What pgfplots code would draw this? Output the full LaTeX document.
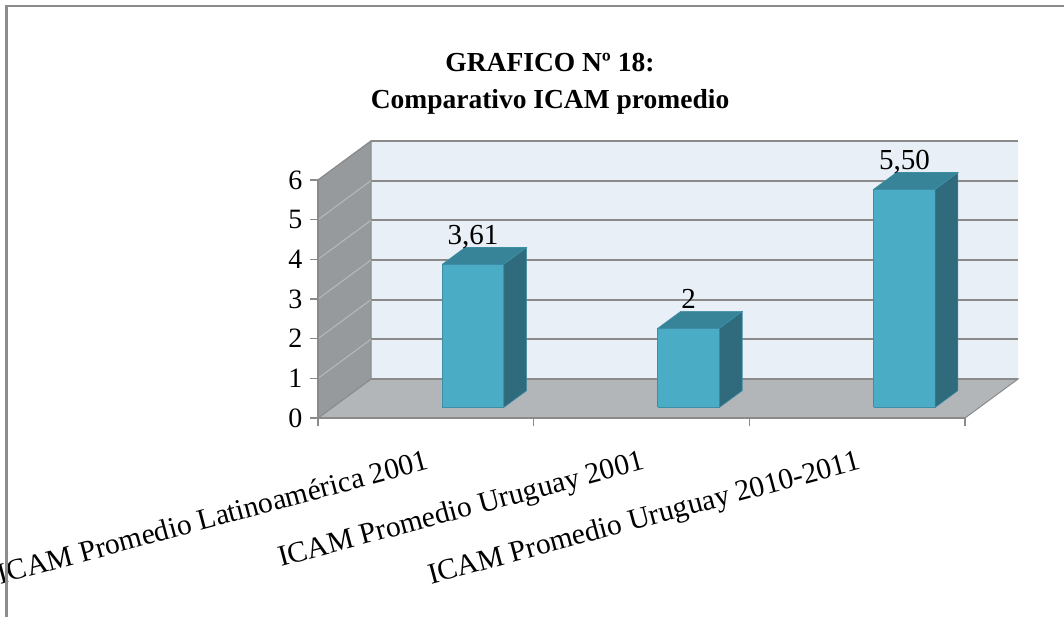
\documentclass[border=0pt]{standalone}
\usepackage{fontspec}
\setmainfont{Liberation Serif}
\usepackage{pgfplots}
\pgfplotsset{compat=1.18}
\definecolor{wallc}{HTML}{E9EFF7}
\definecolor{sidec}{HTML}{969A9D}
\definecolor{floorc}{HTML}{B2B6B9}
\definecolor{gridc}{HTML}{8A8A8A}
\definecolor{sidegrid}{HTML}{B8BABC}
\definecolor{barfront}{HTML}{4BACC6}
\definecolor{barside}{HTML}{2F6B7D}
\definecolor{bartop}{HTML}{378499}
\definecolor{baredge}{HTML}{3E8FA6}
\definecolor{framec}{HTML}{8C8C8C}
\begin{document}
\begin{tikzpicture}
\useasboundingbox (0,0) rectangle (1064pt,617pt);
\clip (0,0) rectangle (1064pt,617pt);
% ---------- 3D walls, floor and bars ----------
\begin{axis}[
  at={(318pt,199pt)}, anchor=origin,
  x={(215.67pt,0pt)}, y={(53pt,39pt)}, z={(0pt,39.67pt)},
  xmin=0, xmax=3, ymin=0, ymax=1, zmin=0, zmax=6,
  hide axis, clip=false,
]
% floor
\addplot3[fill=floorc, draw=gridc, line width=1pt] coordinates {(0,0,0) (3,0,0) (3,1,0) (0,1,0) (0,0,0)};
% back wall
\addplot3[fill=wallc, draw=none] coordinates {(0,1,0) (3,1,0) (3,1,6) (0,1,6) (0,1,0)};
% side wall
\addplot3[fill=sidec, draw=gridc, line width=1pt] coordinates {(0,0,0) (0,1,0) (0,1,6) (0,0,6) (0,0,0)};
% back wall grid lines
\addplot3[gridc, line width=2pt] coordinates {(0,1,0) (3,1,0)};
\addplot3[gridc, line width=2pt] coordinates {(0,1,1) (3,1,1)};
\addplot3[gridc, line width=2pt] coordinates {(0,1,2) (3,1,2)};
\addplot3[gridc, line width=2pt] coordinates {(0,1,3) (3,1,3)};
\addplot3[gridc, line width=2pt] coordinates {(0,1,4) (3,1,4)};
\addplot3[gridc, line width=2pt] coordinates {(0,1,5) (3,1,5)};
\addplot3[gridc, line width=2pt] coordinates {(0,1,6) (3,1,6)};
% side wall grid lines
\addplot3[sidegrid, line width=1pt] coordinates {(0,0,1) (0,1,1)};
\addplot3[sidegrid, line width=1pt] coordinates {(0,0,2) (0,1,2)};
\addplot3[sidegrid, line width=1pt] coordinates {(0,0,3) (0,1,3)};
\addplot3[sidegrid, line width=1pt] coordinates {(0,0,4) (0,1,4)};
\addplot3[sidegrid, line width=1pt] coordinates {(0,0,5) (0,1,5)};
\addplot3[gridc, line width=1pt] coordinates {(0,0,6) (0,1,6)};
% bar 1 : 3.61
\addplot3[fill=barfront, draw=baredge, line width=1pt] coordinates {(0.51,0.27,0) (0.795,0.27,0) (0.795,0.27,3.61) (0.51,0.27,3.61) (0.51,0.27,0)};
\addplot3[fill=barside, draw=baredge, line width=0.6pt] coordinates {(0.795,0.27,0) (0.795,0.70,0) (0.795,0.70,3.61) (0.795,0.27,3.61) (0.795,0.27,0)};
\addplot3[fill=bartop, draw=baredge, line width=0.6pt] coordinates {(0.51,0.27,3.61) (0.795,0.27,3.61) (0.795,0.70,3.61) (0.51,0.70,3.61) (0.51,0.27,3.61)};
% bar 2 : 2
\addplot3[fill=barfront, draw=baredge, line width=1pt] coordinates {(1.51,0.27,0) (1.795,0.27,0) (1.795,0.27,2) (1.51,0.27,2) (1.51,0.27,0)};
\addplot3[fill=barside, draw=baredge, line width=0.6pt] coordinates {(1.795,0.27,0) (1.795,0.70,0) (1.795,0.70,2) (1.795,0.27,2) (1.795,0.27,0)};
\addplot3[fill=bartop, draw=baredge, line width=0.6pt] coordinates {(1.51,0.27,2) (1.795,0.27,2) (1.795,0.70,2) (1.51,0.70,2) (1.51,0.27,2)};
% bar 3 : 5.50
\addplot3[fill=barfront, draw=baredge, line width=1pt] coordinates {(2.51,0.27,0) (2.795,0.27,0) (2.795,0.27,5.5) (2.51,0.27,5.5) (2.51,0.27,0)};
\addplot3[fill=barside, draw=baredge, line width=0.6pt] coordinates {(2.795,0.27,0) (2.795,0.70,0) (2.795,0.70,5.5) (2.795,0.27,5.5) (2.795,0.27,0)};
\addplot3[fill=bartop, draw=baredge, line width=0.6pt] coordinates {(2.51,0.27,5.5) (2.795,0.27,5.5) (2.795,0.70,5.5) (2.51,0.70,5.5) (2.51,0.27,5.5)};
% data labels
\addplot3[draw=none, nodes near coords, point meta=explicit symbolic,
  nodes near coords style={anchor=base, yshift=20pt, inner sep=0pt, font=\fontsize{29}{31}\selectfont, text=black}]
  coordinates {(0.6525,0.27,3.61) [3,61] (1.6525,0.27,2) [2] (2.6525,0.27,5.5) [5,50]};
\end{axis}
% ---------- 2D front axis: ticks and labels ----------
\begin{axis}[
  at={(318pt,199pt)}, anchor=origin,
  x={(215.67pt,0pt)}, y={(0pt,39.67pt)},
  xmin=0, xmax=3, ymin=0, ymax=6,
  axis x line*=bottom, axis y line*=left,
  axis line style={draw=gridc, line width=1.5pt},
  tick align=outside, major tick length=8pt,
  tick style={draw=gridc, line width=1.5pt},
  xtick={0,1,2,3}, xticklabels={,,,},
  ytick={0,1,2,3,4,5,6},
  yticklabel style={font=\fontsize{28}{30}\selectfont, xshift=-4pt, /pgf/number format/assume math mode=true},
  extra x ticks={0.5,1.5,2.5},
  extra x tick labels={ICAM Promedio Latinoamérica 2001, ICAM Promedio Uruguay 2001, ICAM Promedio Uruguay 2010-2011},
  extra x tick style={major tick length=0pt, xticklabel style={font=\fontsize{29.6}{31}\selectfont, inner sep=0pt, yshift=-31pt, xshift=-1pt, rotate=15, anchor=north east}},
]
\end{axis}
\node[font=\bfseries\fontsize{27.5}{37}\selectfont, align=center] at (550pt,533pt) {GRAFICO Nº 18:\\Comparativo ICAM promedio};
\draw[framec, line width=3pt] (6pt,0pt) -- (6pt,611pt);
\draw[framec, line width=2pt] (4.5pt,610.5pt) -- (1064pt,610.5pt);
\end{tikzpicture}
\end{document}
